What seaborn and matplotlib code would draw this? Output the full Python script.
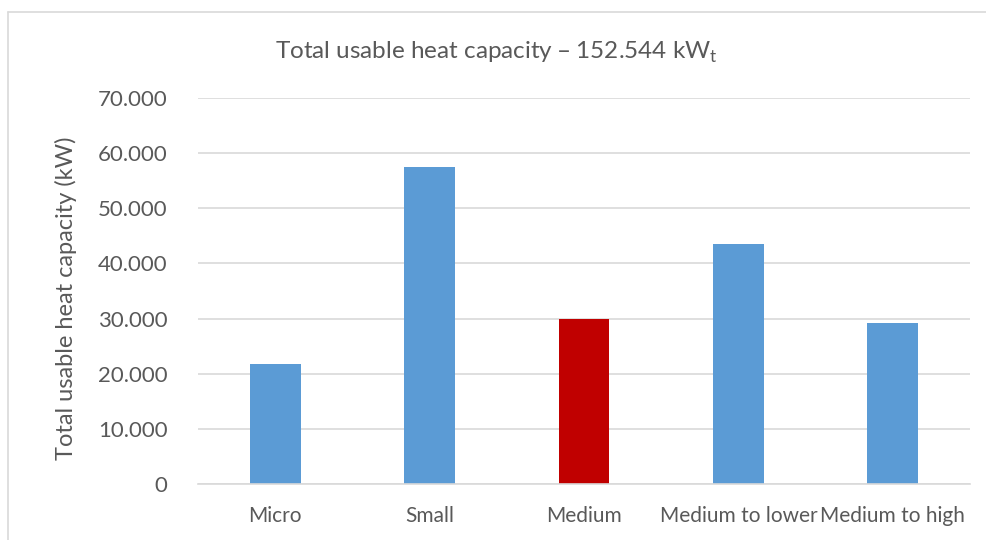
import matplotlib
matplotlib.use("Agg")
import matplotlib.pyplot as plt
from matplotlib.lines import Line2D
from matplotlib.ticker import FuncFormatter
import seaborn as sns
import pandas as pd

categories = ["Micro", "Small", "Medium", "Medium to lower", "Medium to high"]
capacity_kw = [21800, 57500, 29900, 43500, 29200]
bar_colors = ["#5B9BD5", "#5B9BD5", "#C00000", "#5B9BD5", "#5B9BD5"]
y_ticks = [0, 10000, 20000, 30000, 40000, 50000, 60000, 70000]

sns.set_theme(style="white")
plt.rcParams["font.family"] = ["Lato", "DejaVu Sans"]

df = pd.DataFrame({"category": categories, "capacity": capacity_kw})

fig = plt.figure(figsize=(9.87, 5.4), dpi=100)
ax = fig.add_axes([198 / 987, 1 - 484 / 540, (970 - 198) / 987, (484 - 98) / 540])

sns.barplot(data=df, x="category", y="capacity", hue="category",
            palette=bar_colors, width=0.33, legend=False, ax=ax,
            edgecolor="none", saturation=1)

grey = "#595959"
ax.set_ylim(0, 70000)
ax.set_yticks(y_ticks)
ax.yaxis.set_major_formatter(FuncFormatter(
    lambda v, _: "0" if v == 0 else f"{int(v):,}".replace(",", ".")))
ax.grid(axis="y", color="#D9D9D9", linewidth=1.2)
ax.set_axisbelow(True)
for side in ["top", "right", "left"]:
    ax.spines[side].set_visible(False)
ax.spines["bottom"].set_color("#D9D9D9")
ax.spines["bottom"].set_linewidth(1.2)
ax.tick_params(axis="y", length=0, pad=22, labelsize=16, labelcolor=grey)
ax.tick_params(axis="x", length=0, pad=16, labelsize=15, labelcolor=grey)
ax.set_xlabel("")
ax.set_ylabel("Total usable heat capacity (kW)", fontsize=17, color=grey)
ax.yaxis.set_label_coords(-0.157, 0.48)

fig.text(496 / 987, 1 - 52 / 540,
         r"Total usable heat capacity – 152.544 kW$_\mathregular{t}$",
         ha="center", va="center", fontsize=17.5, color=grey)

# light chart-area frame
frame = "#D9D9D9"
fig.add_artist(Line2D([8 / 987, 8 / 987], [0, 1 - 12 / 540], color=frame, lw=1.2,
                      transform=fig.transFigure))
fig.add_artist(Line2D([8 / 987, 1], [1 - 12 / 540, 1 - 12 / 540], color=frame, lw=1.2,
                      transform=fig.transFigure))

fig.savefig("out.png", dpi=100, facecolor="white")
